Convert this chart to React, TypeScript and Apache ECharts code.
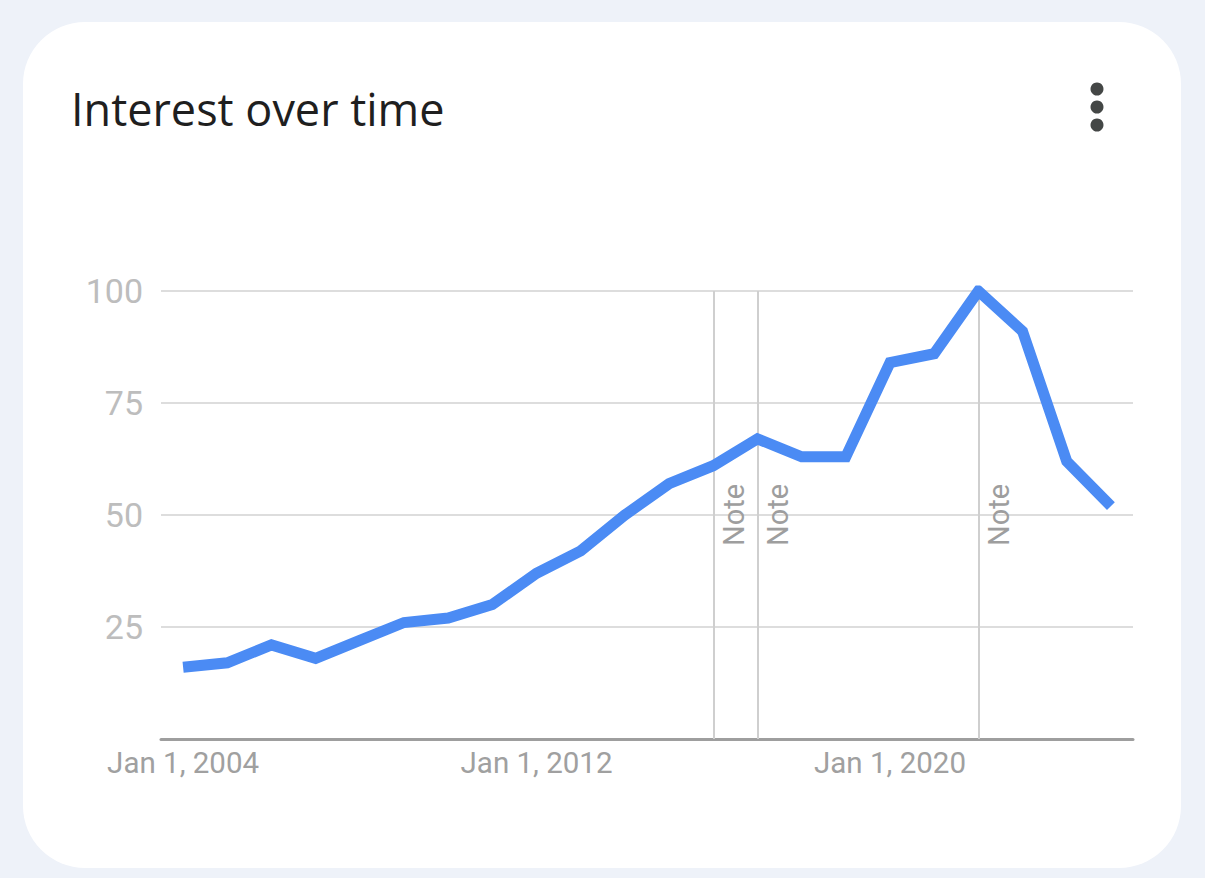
import React, { useEffect, useRef } from "react";
import * as echarts from "echarts";

const years: string[] = [
  "2004", "2005", "2006", "2007", "2008", "2009", "2010", "2011", "2012", "2013", "2014",
  "2015", "2016", "2017", "2018", "2019", "2020", "2021", "2022", "2023", "2024", "2025",
];
const interest: number[] = [
  16, 17, 21, 18, 22, 26, 27, 30, 37, 42, 50, 57, 61, 67, 63, 63, 84, 86, 100, 91, 62, 52,
];
const noteYears: string[] = ["2016", "2017", "2022"];
const yTicks: number[] = [25, 50, 75, 100];
const titleText = "Interest over time";

export default function App() {
  const ref = useRef<HTMLDivElement>(null);
  useEffect(() => {
    if (!ref.current) return;
    const chart = echarts.init(ref.current, undefined, { renderer: "svg" });
    chart.setOption({
      animation: false,
      backgroundColor: "#eef2f9",
      graphic: [
        {
          type: "rect",
          z: -10,
          shape: { x: 23, y: 22, width: 1158, height: 846, r: 62 },
          style: { fill: "#ffffff" },
        },
        {
          type: "text",
          x: 71,
          y: 108,
          style: {
            text: titleText,
            font: '400 45px "Open Sans", Roboto, sans-serif',
            fill: "#1f1f1f",
            verticalAlign: "middle",
          },
        },
        { type: "circle", shape: { cx: 1097, cy: 89, r: 6.5 }, style: { fill: "#444746" } },
        { type: "circle", shape: { cx: 1097, cy: 107, r: 6.5 }, style: { fill: "#444746" } },
        { type: "circle", shape: { cx: 1097, cy: 125, r: 6.5 }, style: { fill: "#444746" } },
      ],
      grid: { left: 161, right: 72, top: 291, height: 448, containLabel: false },
      xAxis: {
        type: "category",
        data: years,
        boundaryGap: true,
        axisLine: { show: true, lineStyle: { color: "#9e9e9e", width: 3 } },
        axisTick: { show: false },
        splitLine: { show: false },
        axisLabel: {
          interval: 7,
          margin: 9,
          color: "#a0a0a0",
          fontSize: 29.5,
          fontFamily: "Roboto",
          formatter: (v: string) => `Jan 1, ${v}`,
        },
      },
      yAxis: {
        type: "value",
        min: 0,
        max: 100,
        interval: 25,
        axisLine: { show: false },
        axisTick: { show: false },
        splitLine: { show: true, lineStyle: { color: "#dddddd", width: 2 } },
        axisLabel: {
          margin: 18,
          color: "#bdbdbd",
          fontSize: 34,
          fontFamily: "Roboto",
          formatter: (v: number) => (yTicks.includes(v) ? String(v) : ""),
        },
      },
      series: [
        {
          type: "line",
          data: interest,
          symbol: "none",
          lineStyle: { color: "#4b8bf4", width: 11, join: "miter" },
          z: 5,
          markLine: {
            silent: true,
            symbol: "none",
            z: 1,
            lineStyle: { color: "#cfcfcf", width: 2, type: "solid" },
            label: {
              show: true,
              position: "insideMiddleBottom",
              formatter: "Note",
              color: "#9e9e9e",
              fontSize: 29,
              fontFamily: "Roboto",
              distance: 6,
            },
            data: noteYears.map((y) => ({ xAxis: y })),
          },
        },
      ],
    });
    return () => chart.dispose();
  }, []);
  return (
    <div
      ref={ref}
      style={{ position: "fixed", left: 0, top: 0, width: 1205, height: 878 }}
    />
  );
}
